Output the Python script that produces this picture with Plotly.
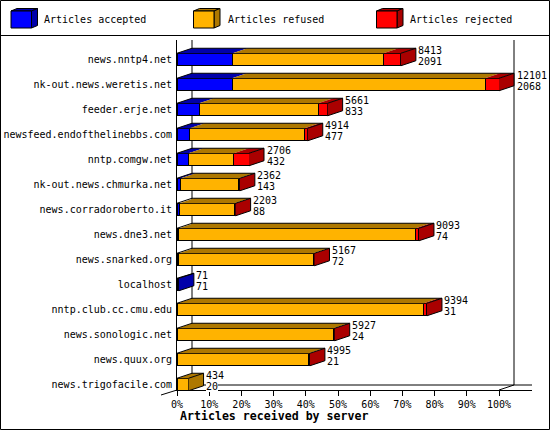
import plotly.graph_objects as go

hosts = ["news.nntp4.net", "nk-out.news.weretis.net", "feeder.erje.net",
         "newsfeed.endofthelinebbs.com", "nntp.comgw.net", "nk-out.news.chmurka.net",
         "news.corradoroberto.it", "news.dne3.net", "news.snarked.org", "localhost",
         "nntp.club.cc.cmu.edu", "news.sonologic.net", "news.quux.org", "news.trigofacile.com"]
offered = [8413, 12101, 5661, 4914, 2706, 2362, 2203, 9093, 5167, 71, 9394, 5927, 4995, 434]
accepted = [2091, 2068, 833, 477, 432, 143, 88, 74, 72, 71, 31, 24, 21, 20]
refused = [5668, 9507, 4475, 4317, 1703, 2179, 2075, 8899, 5055, 0, 9243, 5863, 4934, 414]
rejected = [654, 526, 353, 120, 571, 40, 40, 120, 40, 0, 120, 40, 40, 0]
x_ticks = [0, 10, 20, 30, 40, 50, 60, 70, 80, 90, 100]
series_names = ["Articles accepted", "Articles refused", "Articles rejected"]
front_colors = ["#0000FF", "#FFB300", "#FF0000"]
dark_colors = ["#0000AA", "#AE7800", "#AA0000"]

FONT = "DejaVu Sans Mono"
W, H = 550, 430
L, T, R, B = 177, 40, 532, 390
PER_PCT = 3.22
ROW = 25.0
ROW0 = 59.5
DX = 15 / PER_PCT
DY = 5 / ROW
HALF = 0.25
scale = 100.0 / max(offered)
y_top = (T - ROW0) / ROW
y_bottom = (B - ROW0) / ROW


def px(v):
    return (v - L) / (R - L)


def py(v):
    return 1 - (v - T) / (B - T)


rows = list(range(len(hosts)))
series = [accepted, refused, rejected]
fig = go.Figure()

for name, vals, col in zip(series_names, series, front_colors):
    fig.add_trace(go.Bar(
        x=[v * scale if v else None for v in vals], y=rows, orientation="h", width=HALF * 2, name=name,
        marker=dict(color=col, line=dict(color="black", width=1)), hoverinfo="skip"))

top_x = [[] for _ in series]
top_y = [[] for _ in series]
side_x = [[] for _ in series]
side_y = [[] for _ in series]
out_x, out_y = [], []
for r in rows:
    start = 0.0
    last = 0
    up = r - HALF
    for s, vals in enumerate(series):
        if vals[r] == 0:
            continue
        end = start + vals[r] * scale
        top_x[s] += [start, start + DX, end + DX, end, start, None]
        top_y[s] += [up, up - DY, up - DY, up, up, None]
        start = end
        last = s
    low = r + HALF
    side_x[last] += [start, start + DX, start + DX, start, start, None]
    side_y[last] += [up, up - DY, low - DY, low, up, None]
    out_x += [0, DX, start + DX, start + DX, start, None, start, start + DX, None]
    out_y += [up, up - DY, up - DY, low - DY, low, None, up, up - DY, None]

for s in range(3):
    for xs, ys in ((top_x[s], top_y[s]), (side_x[s], side_y[s])):
        if xs:
            fig.add_trace(go.Scatter(x=xs, y=ys, mode="lines", fill="toself", fillcolor=dark_colors[s],
                                     line=dict(width=0, color=dark_colors[s]), hoverinfo="skip", showlegend=False))
fig.add_trace(go.Scatter(x=out_x, y=out_y, mode="lines", line=dict(color="black", width=1),
                         hoverinfo="skip", showlegend=False))

line = dict(color="black", width=1)
shapes = [
    dict(type="line", xref="x", yref="y", x0=DX, x1=DX, y0=y_top, y1=y_bottom - DY, line=line, layer="below"),
    dict(type="line", xref="x", yref="y", x0=100 + DX, x1=100 + DX, y0=y_top, y1=y_bottom - DY, line=line, layer="below"),
    dict(type="line", xref="x", yref="y", x0=DX, x1=110.25, y0=y_bottom - DY, y1=y_bottom - DY, line=line, layer="below"),
    dict(type="line", xref="x", yref="y", x0=100, x1=100 + DX, y0=y_bottom, y1=y_bottom - DY, line=line, layer="below"),
    dict(type="line", xref="paper", yref="paper", x0=px(161), x1=px(177), y0=py(395), y1=py(390), line=line),
    dict(type="rect", xref="paper", yref="paper", x0=px(0.5), x1=px(549.5), y0=py(0.5), y1=py(429.5), line=line),
    dict(type="line", xref="paper", yref="paper", x0=px(0), x1=px(550), y0=py(35.5), y1=py(35.5), line=line),
]

annotations = []
for r in rows:
    xe = offered[r] * scale + DX
    for txt, sh in ((offered[r], 5.5), (accepted[r], -5.5)):
        annotations.append(dict(x=xe, y=r - 0.16, xref="x", yref="y", xanchor="left", yanchor="middle",
                                text=str(txt), showarrow=False, xshift=2.5, yshift=sh, bgcolor="white",
                                borderpad=0, borderwidth=0, font=dict(family=FONT, size=10, color="black")))

for x0, name, front, dark, tx in zip((11, 193.5, 376.5), series_names, front_colors, dark_colors, (42, 225.5, 408)):
    x1, x2 = x0 + 20.5, x0 + 26.5
    y0, y1, yb = 11, 28, 8.5
    poly = lambda pts: "M" + "L".join(f"{px(a)},{py(b)}" for a, b in pts) + "Z"
    shapes.append(dict(type="path", xref="paper", yref="paper", fillcolor=dark, line=line,
                       path=poly([(x0, y0), (x0 + 6, yb), (x2, yb), (x1, y0)])))
    shapes.append(dict(type="path", xref="paper", yref="paper", fillcolor=dark, line=line,
                       path=poly([(x1, y0), (x2, yb), (x2, y1 - 2.5), (x1, y1)])))
    shapes.append(dict(type="rect", xref="paper", yref="paper", fillcolor=front, line=line,
                       x0=px(x0), x1=px(x1), y0=py(y0), y1=py(y1)))
    annotations.append(dict(x=px(tx), y=py(20), xref="paper", yref="paper", xanchor="left", yanchor="middle",
                            text=name, showarrow=False, font=dict(family=FONT, size=10, color="black")))

annotations.append(dict(x=px(274), y=py(416.5), xref="paper", yref="paper", xanchor="center", yanchor="middle",
                        text="<b>Articles received by server</b>", showarrow=False,
                        font=dict(family=FONT, size=11.6, color="black")))

fig.update_layout(
    width=W, height=H, barmode="stack", showlegend=False, plot_bgcolor="white", paper_bgcolor="white",
    margin=dict(l=L, r=W - R, t=T, b=H - B, pad=0, autoexpand=False), bargap=0.5,
    font=dict(family=FONT, size=10, color="black"), shapes=shapes, annotations=annotations,
    xaxis=dict(range=[0, 110.25], tickvals=x_ticks, ticktext=[f"{v}%" for v in x_ticks], ticks="outside",
               ticklen=5, tickcolor="black", tickwidth=1, showgrid=False, zeroline=False, showline=True,
               linecolor="black", linewidth=1, automargin=False),
    yaxis=dict(range=[y_bottom, y_top], tickvals=rows, ticktext=hosts, ticks="", showgrid=False, zeroline=False,
               showline=True, linecolor="black", linewidth=1, ticklabelstandoff=2, automargin=False),
)

fig.write_html("out.html", config=dict(displayModeBar=False),
               post_script="document.body.style.margin='0';document.documentElement.style.overflow='hidden';")
